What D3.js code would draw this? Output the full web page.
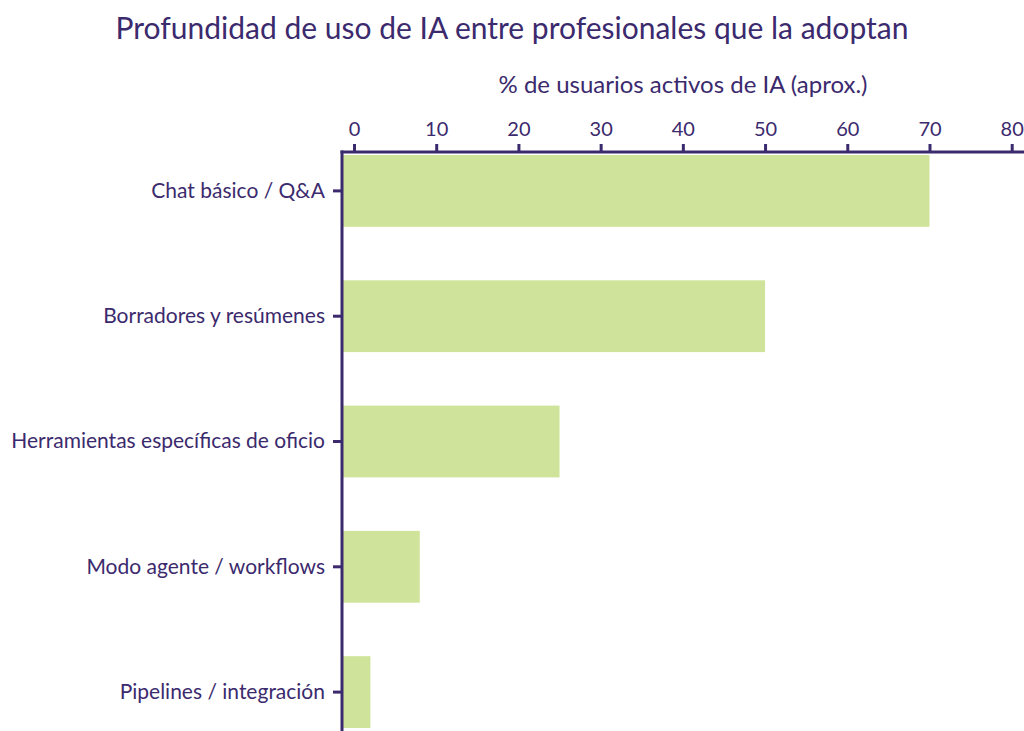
<!DOCTYPE html>
<html><head><meta charset="utf-8">
<script src="https://cdn.jsdelivr.net/npm/d3@7"></script>
<style>body{margin:0;background:#fff}svg{display:block}text{font-family:Lato,"Open Sans",sans-serif}</style>
</head><body>
<script>
const categories = ["Chat básico / Q&A","Borradores y resúmenes","Herramientas específicas de oficio","Modo agente / workflows","Pipelines / integración"];
const values = [70,50,25,8,2];
const xTicks = [0,10,20,30,40,50,60,70,80];
const titleText = "Profundidad de uso de IA entre profesionales que la adoptan";
const xTitle = "% de usuarios activos de IA (aprox.)";

const W=1024,H=731, ink="#3b2a6d", barColor="#cfe49a";
const svg=d3.select("body").append("svg").attr("width",W).attr("height",H);
const axisX=342, axisY=152;
const x=d3.scaleLinear().domain([0,80]).range([354,1011.7]);
const y=d3.scaleBand().domain(categories).range([155,728]).paddingInner(0.427).paddingOuter(0);

svg.append("text").attr("x",512).attr("y",39).attr("text-anchor","middle")
  .attr("font-size",30).attr("fill",ink).text(titleText);
svg.append("text").attr("x",683).attr("y",93).attr("text-anchor","middle")
  .attr("font-size",24).attr("fill",ink).text(xTitle);

svg.selectAll("rect.bar").data(values).join("rect").attr("class","bar")
  .attr("x",axisX).attr("y",(d,i)=>y(categories[i]))
  .attr("width",d=>x(d)-axisX).attr("height",y.bandwidth()).attr("fill",barColor);

const gx=svg.append("g").attr("transform",`translate(0,${axisY})`)
  .call(d3.axisTop(x).tickValues(xTicks).tickSize(8).tickPadding(8));
gx.select(".domain").attr("d",`M${axisX-1.5},0H${W+5}`).attr("stroke",ink).attr("stroke-width",3);
gx.selectAll(".tick line").attr("stroke",ink).attr("stroke-width",3);
gx.selectAll(".tick text").attr("fill",ink).attr("font-size",20).attr("font-family","Lato");

const gy=svg.append("g").attr("transform",`translate(${axisX},0)`)
  .call(d3.axisLeft(y).tickSize(9).tickPadding(8));
gy.select(".domain").attr("d",`M0,${axisY-1.5}V${H+5}`).attr("stroke",ink).attr("stroke-width",3);
gy.selectAll(".tick line").attr("stroke",ink).attr("stroke-width",3);
gy.selectAll(".tick text").attr("fill",ink).attr("font-size",21).attr("font-family","Lato");
</script>
</body></html>
